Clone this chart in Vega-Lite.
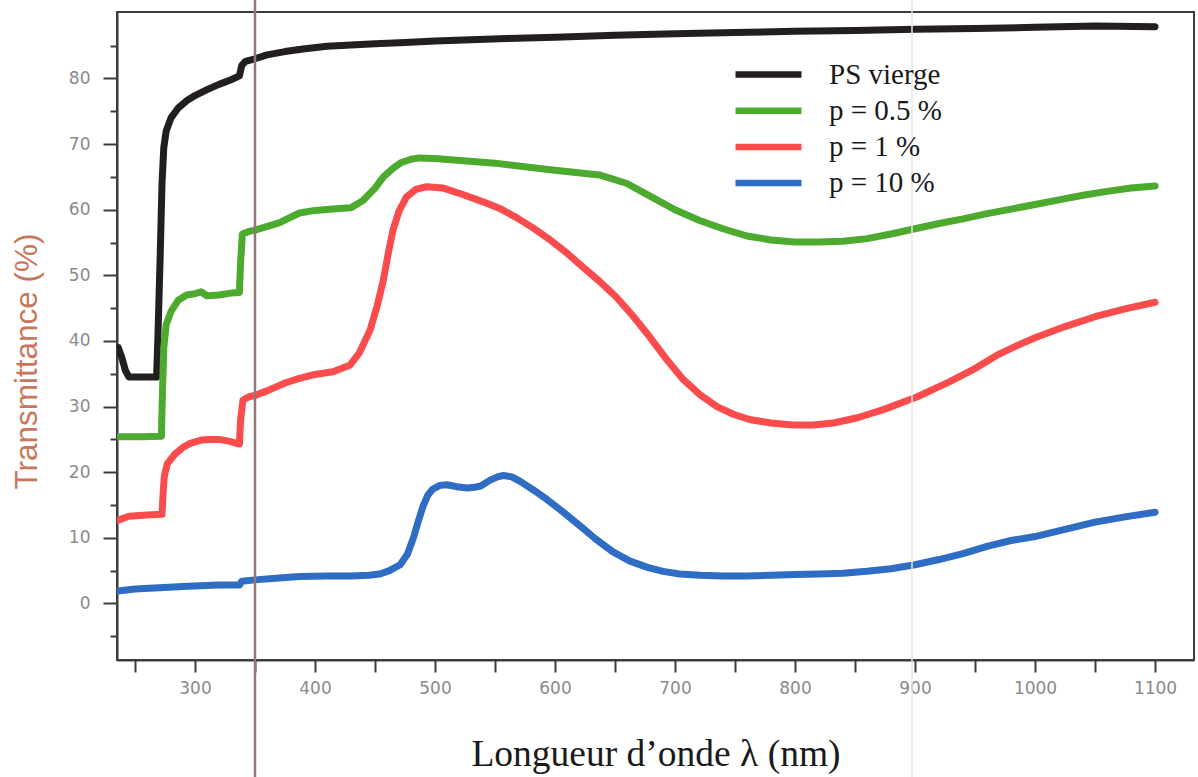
{
  "$schema": "https://vega.github.io/schema/vega-lite/v6.json",
  "width": 1077,
  "height": 648,
  "autosize": {"type": "none"},
  "padding": {"left": 117, "top": 12, "right": 4, "bottom": 117},
  "background": "white",
  "config": {
    "view": {"stroke": "#3c3c3c", "strokeWidth": 2},
    "axis": {"grid": false}
  },
  "resolve": {"scale": {"y": "shared", "x": "shared"}, "axis": {"y": "independent"}},
  "layer": [
    {
      "data": {
        "values": [
          {"serie": "PS vierge", "lambda": 236, "T": 39},
          {"serie": "PS vierge", "lambda": 239, "T": 37.5},
          {"serie": "PS vierge", "lambda": 242, "T": 35.5},
          {"serie": "PS vierge", "lambda": 245, "T": 34.5},
          {"serie": "PS vierge", "lambda": 255, "T": 34.5},
          {"serie": "PS vierge", "lambda": 268, "T": 34.5},
          {"serie": "PS vierge", "lambda": 269, "T": 40},
          {"serie": "PS vierge", "lambda": 271, "T": 53},
          {"serie": "PS vierge", "lambda": 272.5, "T": 64},
          {"serie": "PS vierge", "lambda": 274, "T": 69.5},
          {"serie": "PS vierge", "lambda": 276, "T": 72},
          {"serie": "PS vierge", "lambda": 280, "T": 74},
          {"serie": "PS vierge", "lambda": 286, "T": 75.5},
          {"serie": "PS vierge", "lambda": 293, "T": 76.6},
          {"serie": "PS vierge", "lambda": 300, "T": 77.4},
          {"serie": "PS vierge", "lambda": 310, "T": 78.3},
          {"serie": "PS vierge", "lambda": 320, "T": 79.1},
          {"serie": "PS vierge", "lambda": 330, "T": 79.8},
          {"serie": "PS vierge", "lambda": 337, "T": 80.4},
          {"serie": "PS vierge", "lambda": 339, "T": 82},
          {"serie": "PS vierge", "lambda": 342, "T": 82.6},
          {"serie": "PS vierge", "lambda": 350, "T": 83},
          {"serie": "PS vierge", "lambda": 360, "T": 83.6},
          {"serie": "PS vierge", "lambda": 375, "T": 84.1},
          {"serie": "PS vierge", "lambda": 390, "T": 84.5},
          {"serie": "PS vierge", "lambda": 410, "T": 84.9},
          {"serie": "PS vierge", "lambda": 430, "T": 85.1},
          {"serie": "PS vierge", "lambda": 450, "T": 85.3},
          {"serie": "PS vierge", "lambda": 475, "T": 85.5},
          {"serie": "PS vierge", "lambda": 500, "T": 85.7},
          {"serie": "PS vierge", "lambda": 530, "T": 85.9},
          {"serie": "PS vierge", "lambda": 560, "T": 86.1},
          {"serie": "PS vierge", "lambda": 600, "T": 86.3},
          {"serie": "PS vierge", "lambda": 650, "T": 86.6},
          {"serie": "PS vierge", "lambda": 700, "T": 86.8},
          {"serie": "PS vierge", "lambda": 750, "T": 87},
          {"serie": "PS vierge", "lambda": 800, "T": 87.2},
          {"serie": "PS vierge", "lambda": 850, "T": 87.3},
          {"serie": "PS vierge", "lambda": 900, "T": 87.5},
          {"serie": "PS vierge", "lambda": 950, "T": 87.6},
          {"serie": "PS vierge", "lambda": 1000, "T": 87.8},
          {"serie": "PS vierge", "lambda": 1050, "T": 88},
          {"serie": "PS vierge", "lambda": 1100, "T": 87.9},

          {"serie": "p = 0.5 %", "lambda": 236, "T": 25.4},
          {"serie": "p = 0.5 %", "lambda": 255, "T": 25.4},
          {"serie": "p = 0.5 %", "lambda": 272, "T": 25.5},
          {"serie": "p = 0.5 %", "lambda": 273, "T": 33},
          {"serie": "p = 0.5 %", "lambda": 274, "T": 39},
          {"serie": "p = 0.5 %", "lambda": 276, "T": 42.5},
          {"serie": "p = 0.5 %", "lambda": 280, "T": 44.5},
          {"serie": "p = 0.5 %", "lambda": 286, "T": 46.2},
          {"serie": "p = 0.5 %", "lambda": 293, "T": 47},
          {"serie": "p = 0.5 %", "lambda": 300, "T": 47.2},
          {"serie": "p = 0.5 %", "lambda": 305, "T": 47.5},
          {"serie": "p = 0.5 %", "lambda": 310, "T": 46.9},
          {"serie": "p = 0.5 %", "lambda": 320, "T": 47},
          {"serie": "p = 0.5 %", "lambda": 330, "T": 47.3},
          {"serie": "p = 0.5 %", "lambda": 337, "T": 47.4},
          {"serie": "p = 0.5 %", "lambda": 338, "T": 52},
          {"serie": "p = 0.5 %", "lambda": 339.5, "T": 56.3},
          {"serie": "p = 0.5 %", "lambda": 345, "T": 56.7},
          {"serie": "p = 0.5 %", "lambda": 350, "T": 56.9},
          {"serie": "p = 0.5 %", "lambda": 370, "T": 58},
          {"serie": "p = 0.5 %", "lambda": 387, "T": 59.5},
          {"serie": "p = 0.5 %", "lambda": 400, "T": 59.9},
          {"serie": "p = 0.5 %", "lambda": 420, "T": 60.2},
          {"serie": "p = 0.5 %", "lambda": 430, "T": 60.3},
          {"serie": "p = 0.5 %", "lambda": 440, "T": 61.4},
          {"serie": "p = 0.5 %", "lambda": 450, "T": 63.3},
          {"serie": "p = 0.5 %", "lambda": 457, "T": 65},
          {"serie": "p = 0.5 %", "lambda": 465, "T": 66.3},
          {"serie": "p = 0.5 %", "lambda": 472, "T": 67.2},
          {"serie": "p = 0.5 %", "lambda": 480, "T": 67.7},
          {"serie": "p = 0.5 %", "lambda": 487, "T": 67.9},
          {"serie": "p = 0.5 %", "lambda": 500, "T": 67.8},
          {"serie": "p = 0.5 %", "lambda": 550, "T": 67.1},
          {"serie": "p = 0.5 %", "lambda": 596, "T": 66.1},
          {"serie": "p = 0.5 %", "lambda": 637, "T": 65.3},
          {"serie": "p = 0.5 %", "lambda": 660, "T": 64},
          {"serie": "p = 0.5 %", "lambda": 680, "T": 62},
          {"serie": "p = 0.5 %", "lambda": 700, "T": 60},
          {"serie": "p = 0.5 %", "lambda": 720, "T": 58.4},
          {"serie": "p = 0.5 %", "lambda": 740, "T": 57.1},
          {"serie": "p = 0.5 %", "lambda": 760, "T": 56},
          {"serie": "p = 0.5 %", "lambda": 780, "T": 55.4},
          {"serie": "p = 0.5 %", "lambda": 800, "T": 55.1},
          {"serie": "p = 0.5 %", "lambda": 820, "T": 55.1},
          {"serie": "p = 0.5 %", "lambda": 840, "T": 55.2},
          {"serie": "p = 0.5 %", "lambda": 860, "T": 55.6},
          {"serie": "p = 0.5 %", "lambda": 880, "T": 56.3},
          {"serie": "p = 0.5 %", "lambda": 900, "T": 57.1},
          {"serie": "p = 0.5 %", "lambda": 920, "T": 57.9},
          {"serie": "p = 0.5 %", "lambda": 940, "T": 58.6},
          {"serie": "p = 0.5 %", "lambda": 960, "T": 59.4},
          {"serie": "p = 0.5 %", "lambda": 980, "T": 60.1},
          {"serie": "p = 0.5 %", "lambda": 1000, "T": 60.8},
          {"serie": "p = 0.5 %", "lambda": 1020, "T": 61.5},
          {"serie": "p = 0.5 %", "lambda": 1040, "T": 62.2},
          {"serie": "p = 0.5 %", "lambda": 1060, "T": 62.8},
          {"serie": "p = 0.5 %", "lambda": 1080, "T": 63.3},
          {"serie": "p = 0.5 %", "lambda": 1100, "T": 63.6},

          {"serie": "p = 1 %", "lambda": 236, "T": 12.7},
          {"serie": "p = 1 %", "lambda": 245, "T": 13.3},
          {"serie": "p = 1 %", "lambda": 260, "T": 13.5},
          {"serie": "p = 1 %", "lambda": 272.5, "T": 13.6},
          {"serie": "p = 1 %", "lambda": 273.5, "T": 17},
          {"serie": "p = 1 %", "lambda": 274.5, "T": 19.5},
          {"serie": "p = 1 %", "lambda": 277, "T": 21.3},
          {"serie": "p = 1 %", "lambda": 283, "T": 22.7},
          {"serie": "p = 1 %", "lambda": 290, "T": 23.8},
          {"serie": "p = 1 %", "lambda": 296, "T": 24.4},
          {"serie": "p = 1 %", "lambda": 305, "T": 24.9},
          {"serie": "p = 1 %", "lambda": 312, "T": 25},
          {"serie": "p = 1 %", "lambda": 320, "T": 25},
          {"serie": "p = 1 %", "lambda": 329, "T": 24.7},
          {"serie": "p = 1 %", "lambda": 337, "T": 24.3},
          {"serie": "p = 1 %", "lambda": 338, "T": 28},
          {"serie": "p = 1 %", "lambda": 340, "T": 31},
          {"serie": "p = 1 %", "lambda": 345, "T": 31.5},
          {"serie": "p = 1 %", "lambda": 350, "T": 31.7},
          {"serie": "p = 1 %", "lambda": 360, "T": 32.4},
          {"serie": "p = 1 %", "lambda": 375, "T": 33.6},
          {"serie": "p = 1 %", "lambda": 387, "T": 34.3},
          {"serie": "p = 1 %", "lambda": 400, "T": 34.9},
          {"serie": "p = 1 %", "lambda": 415, "T": 35.3},
          {"serie": "p = 1 %", "lambda": 429, "T": 36.3},
          {"serie": "p = 1 %", "lambda": 437, "T": 38.2},
          {"serie": "p = 1 %", "lambda": 446, "T": 41.7},
          {"serie": "p = 1 %", "lambda": 452, "T": 45.5},
          {"serie": "p = 1 %", "lambda": 457, "T": 49.3},
          {"serie": "p = 1 %", "lambda": 461, "T": 53.3},
          {"serie": "p = 1 %", "lambda": 465, "T": 56.9},
          {"serie": "p = 1 %", "lambda": 470, "T": 59.8},
          {"serie": "p = 1 %", "lambda": 476, "T": 61.9},
          {"serie": "p = 1 %", "lambda": 484, "T": 63.1},
          {"serie": "p = 1 %", "lambda": 493, "T": 63.5},
          {"serie": "p = 1 %", "lambda": 507, "T": 63.3},
          {"serie": "p = 1 %", "lambda": 522, "T": 62.4},
          {"serie": "p = 1 %", "lambda": 540, "T": 61.2},
          {"serie": "p = 1 %", "lambda": 555, "T": 60.1},
          {"serie": "p = 1 %", "lambda": 568, "T": 58.8},
          {"serie": "p = 1 %", "lambda": 582, "T": 57.2},
          {"serie": "p = 1 %", "lambda": 596, "T": 55.4},
          {"serie": "p = 1 %", "lambda": 610, "T": 53.4},
          {"serie": "p = 1 %", "lambda": 623, "T": 51.3},
          {"serie": "p = 1 %", "lambda": 637, "T": 49.1},
          {"serie": "p = 1 %", "lambda": 651, "T": 46.7},
          {"serie": "p = 1 %", "lambda": 665, "T": 43.8},
          {"serie": "p = 1 %", "lambda": 679, "T": 40.6},
          {"serie": "p = 1 %", "lambda": 693, "T": 37.2},
          {"serie": "p = 1 %", "lambda": 707, "T": 34.1},
          {"serie": "p = 1 %", "lambda": 721, "T": 31.8},
          {"serie": "p = 1 %", "lambda": 735, "T": 30},
          {"serie": "p = 1 %", "lambda": 749, "T": 28.8},
          {"serie": "p = 1 %", "lambda": 763, "T": 28},
          {"serie": "p = 1 %", "lambda": 780, "T": 27.5},
          {"serie": "p = 1 %", "lambda": 798, "T": 27.2},
          {"serie": "p = 1 %", "lambda": 815, "T": 27.2},
          {"serie": "p = 1 %", "lambda": 832, "T": 27.5},
          {"serie": "p = 1 %", "lambda": 852, "T": 28.3},
          {"serie": "p = 1 %", "lambda": 873, "T": 29.5},
          {"serie": "p = 1 %", "lambda": 902, "T": 31.5},
          {"serie": "p = 1 %", "lambda": 929, "T": 33.8},
          {"serie": "p = 1 %", "lambda": 950, "T": 35.8},
          {"serie": "p = 1 %", "lambda": 968, "T": 37.8},
          {"serie": "p = 1 %", "lambda": 985, "T": 39.3},
          {"serie": "p = 1 %", "lambda": 1000, "T": 40.5},
          {"serie": "p = 1 %", "lambda": 1025, "T": 42.2},
          {"serie": "p = 1 %", "lambda": 1050, "T": 43.7},
          {"serie": "p = 1 %", "lambda": 1075, "T": 44.9},
          {"serie": "p = 1 %", "lambda": 1100, "T": 45.9},

          {"serie": "p = 10 %", "lambda": 236, "T": 1.9},
          {"serie": "p = 10 %", "lambda": 250, "T": 2.2},
          {"serie": "p = 10 %", "lambda": 270, "T": 2.4},
          {"serie": "p = 10 %", "lambda": 290, "T": 2.6},
          {"serie": "p = 10 %", "lambda": 304, "T": 2.7},
          {"serie": "p = 10 %", "lambda": 320, "T": 2.8},
          {"serie": "p = 10 %", "lambda": 337, "T": 2.8},
          {"serie": "p = 10 %", "lambda": 339, "T": 3.4},
          {"serie": "p = 10 %", "lambda": 350, "T": 3.6},
          {"serie": "p = 10 %", "lambda": 370, "T": 3.9},
          {"serie": "p = 10 %", "lambda": 387, "T": 4.1},
          {"serie": "p = 10 %", "lambda": 410, "T": 4.2},
          {"serie": "p = 10 %", "lambda": 430, "T": 4.2},
          {"serie": "p = 10 %", "lambda": 445, "T": 4.3},
          {"serie": "p = 10 %", "lambda": 454, "T": 4.5},
          {"serie": "p = 10 %", "lambda": 462, "T": 5},
          {"serie": "p = 10 %", "lambda": 471, "T": 5.9},
          {"serie": "p = 10 %", "lambda": 477, "T": 7.5},
          {"serie": "p = 10 %", "lambda": 482, "T": 10},
          {"serie": "p = 10 %", "lambda": 486, "T": 12.5},
          {"serie": "p = 10 %", "lambda": 490, "T": 14.8},
          {"serie": "p = 10 %", "lambda": 494, "T": 16.5},
          {"serie": "p = 10 %", "lambda": 498, "T": 17.4},
          {"serie": "p = 10 %", "lambda": 504, "T": 18},
          {"serie": "p = 10 %", "lambda": 510, "T": 18.1},
          {"serie": "p = 10 %", "lambda": 518, "T": 17.8},
          {"serie": "p = 10 %", "lambda": 527, "T": 17.6},
          {"serie": "p = 10 %", "lambda": 533, "T": 17.7},
          {"serie": "p = 10 %", "lambda": 538, "T": 17.9},
          {"serie": "p = 10 %", "lambda": 546, "T": 18.8},
          {"serie": "p = 10 %", "lambda": 552, "T": 19.3},
          {"serie": "p = 10 %", "lambda": 557, "T": 19.5},
          {"serie": "p = 10 %", "lambda": 564, "T": 19.3},
          {"serie": "p = 10 %", "lambda": 571, "T": 18.6},
          {"serie": "p = 10 %", "lambda": 582, "T": 17.3},
          {"serie": "p = 10 %", "lambda": 593, "T": 15.9},
          {"serie": "p = 10 %", "lambda": 607, "T": 13.9},
          {"serie": "p = 10 %", "lambda": 621, "T": 11.8},
          {"serie": "p = 10 %", "lambda": 634, "T": 9.8},
          {"serie": "p = 10 %", "lambda": 648, "T": 7.9},
          {"serie": "p = 10 %", "lambda": 662, "T": 6.5},
          {"serie": "p = 10 %", "lambda": 677, "T": 5.5},
          {"serie": "p = 10 %", "lambda": 690, "T": 4.9},
          {"serie": "p = 10 %", "lambda": 704, "T": 4.5},
          {"serie": "p = 10 %", "lambda": 721, "T": 4.3},
          {"serie": "p = 10 %", "lambda": 740, "T": 4.2},
          {"serie": "p = 10 %", "lambda": 760, "T": 4.2},
          {"serie": "p = 10 %", "lambda": 780, "T": 4.3},
          {"serie": "p = 10 %", "lambda": 800, "T": 4.4},
          {"serie": "p = 10 %", "lambda": 820, "T": 4.5},
          {"serie": "p = 10 %", "lambda": 840, "T": 4.6},
          {"serie": "p = 10 %", "lambda": 860, "T": 4.9},
          {"serie": "p = 10 %", "lambda": 880, "T": 5.3},
          {"serie": "p = 10 %", "lambda": 900, "T": 5.9},
          {"serie": "p = 10 %", "lambda": 920, "T": 6.7},
          {"serie": "p = 10 %", "lambda": 940, "T": 7.6},
          {"serie": "p = 10 %", "lambda": 960, "T": 8.7},
          {"serie": "p = 10 %", "lambda": 980, "T": 9.6},
          {"serie": "p = 10 %", "lambda": 1000, "T": 10.2},
          {"serie": "p = 10 %", "lambda": 1025, "T": 11.3},
          {"serie": "p = 10 %", "lambda": 1050, "T": 12.4},
          {"serie": "p = 10 %", "lambda": 1075, "T": 13.2},
          {"serie": "p = 10 %", "lambda": 1100, "T": 13.9}
        ]
      },
      "mark": {"type": "line", "strokeWidth": 7, "strokeJoin": "round", "strokeCap": "round", "clip": true},
      "encoding": {
        "x": {
          "field": "lambda",
          "type": "quantitative",
          "scale": {"domain": [235, 1132.5], "nice": false, "zero": false},
          "axis": {
            "values": [250, 300, 350, 400, 450, 500, 550, 600, 650, 700, 750, 800, 850, 900, 950, 1000, 1050, 1100],
            "format": "d",
            "labelExpr": "(datum.value / 100) === round(datum.value / 100) ? datum.label : ''",
            "labelOverlap": false,
            "labelFlush": false,
            "labelFont": "DejaVu Sans",
            "labelFontSize": 17,
            "labelColor": "#8a8a8a",
            "labelPadding": 8,
            "tickSize": 12,
            "tickColor": "#3c3c3c",
            "tickWidth": 2,
            "domainColor": "#3c3c3c",
            "domainWidth": 2,
            "encode": {
              "ticks": {
                "update": {
                  "y2": {"signal": "(datum.value / 100) === round(datum.value / 100) ? 12 : 6"}
                }
              }
            },
            "title": "Longueur d’onde λ (nm)",
            "titleFont": "Liberation Serif",
            "titleFontSize": 37.5,
            "titleFontWeight": "normal",
            "titleColor": "#1a1a1a",
            "titleBaseline": "alphabetic",
            "titleY": 105
          }
        },
        "y": {
          "field": "T",
          "type": "quantitative",
          "scale": {"domain": [-8.61, 90.13], "nice": false, "zero": false},
          "axis": {
            "orient": "left",
            "offset": 0,
            "values": [0, 10, 20, 30, 40, 50, 60, 70, 80],
            "format": "d",
            "labelOverlap": false,
            "labelFlush": false,
            "labelFont": "DejaVu Sans",
            "labelFontSize": 17,
            "labelColor": "#8a8a8a",
            "labelPadding": 13,
            "tickSize": 14,
            "tickColor": "#3c3c3c",
            "tickWidth": 2,
            "domainColor": "#3c3c3c",
            "domainWidth": 2,
            "title": "Transmittance (%)",
            "titleFont": "Liberation Sans",
            "titleFontSize": 31.5,
            "titleFontWeight": "normal",
            "titleColor": "#c8765c",
            "titleBaseline": "alphabetic",
            "titleX": -81,
            "titleY": 349
          }
        },
        "color": {
          "field": "serie",
          "type": "nominal",
          "scale": {
            "domain": ["PS vierge", "p = 0.5 %", "p = 1 %", "p = 10 %"],
            "range": ["#231f20", "#4caa2e", "#fa4c4c", "#2f6cc4"]
          },
          "legend": {
            "title": null,
            "orient": "none",
            "legendX": 637,
            "legendY": 48,
            "padding": 0,
            "symbolType": "M-6.6,0H6.6",
            "symbolSize": 100,
            "symbolStrokeWidth": 6.5,
            "labelFont": "Liberation Serif",
            "labelFontSize": 29,
            "labelColor": "#1a1a1a",
            "labelOffset": 46,
            "rowPadding": 6.2
          }
        }
      }
    },
    {
      "data": {"values": [{}]},
      "mark": {"type": "rule", "color": "#e6e6e6", "strokeWidth": 1.5},
      "encoding": {
        "x": {"datum": 897.5},
        "y": {"datum": 92, "axis": null},
        "y2": {"datum": -27}
      }
    },
    {
      "data": {"values": [{}]},
      "mark": {"type": "rule", "color": "#917875", "strokeWidth": 2.5},
      "encoding": {
        "x": {"datum": 350},
        "y": {
          "datum": 92,
          "axis": {
            "orient": "left",
            "values": [-5, 5, 15, 25, 35, 45, 55, 65, 75, 85],
            "labels": false,
            "domain": false,
            "title": null,
            "tickSize": 7,
            "tickColor": "#3c3c3c",
            "tickWidth": 2,
            "offset": 0
          }
        },
        "y2": {"datum": -27}
      }
    }
  ]
}
